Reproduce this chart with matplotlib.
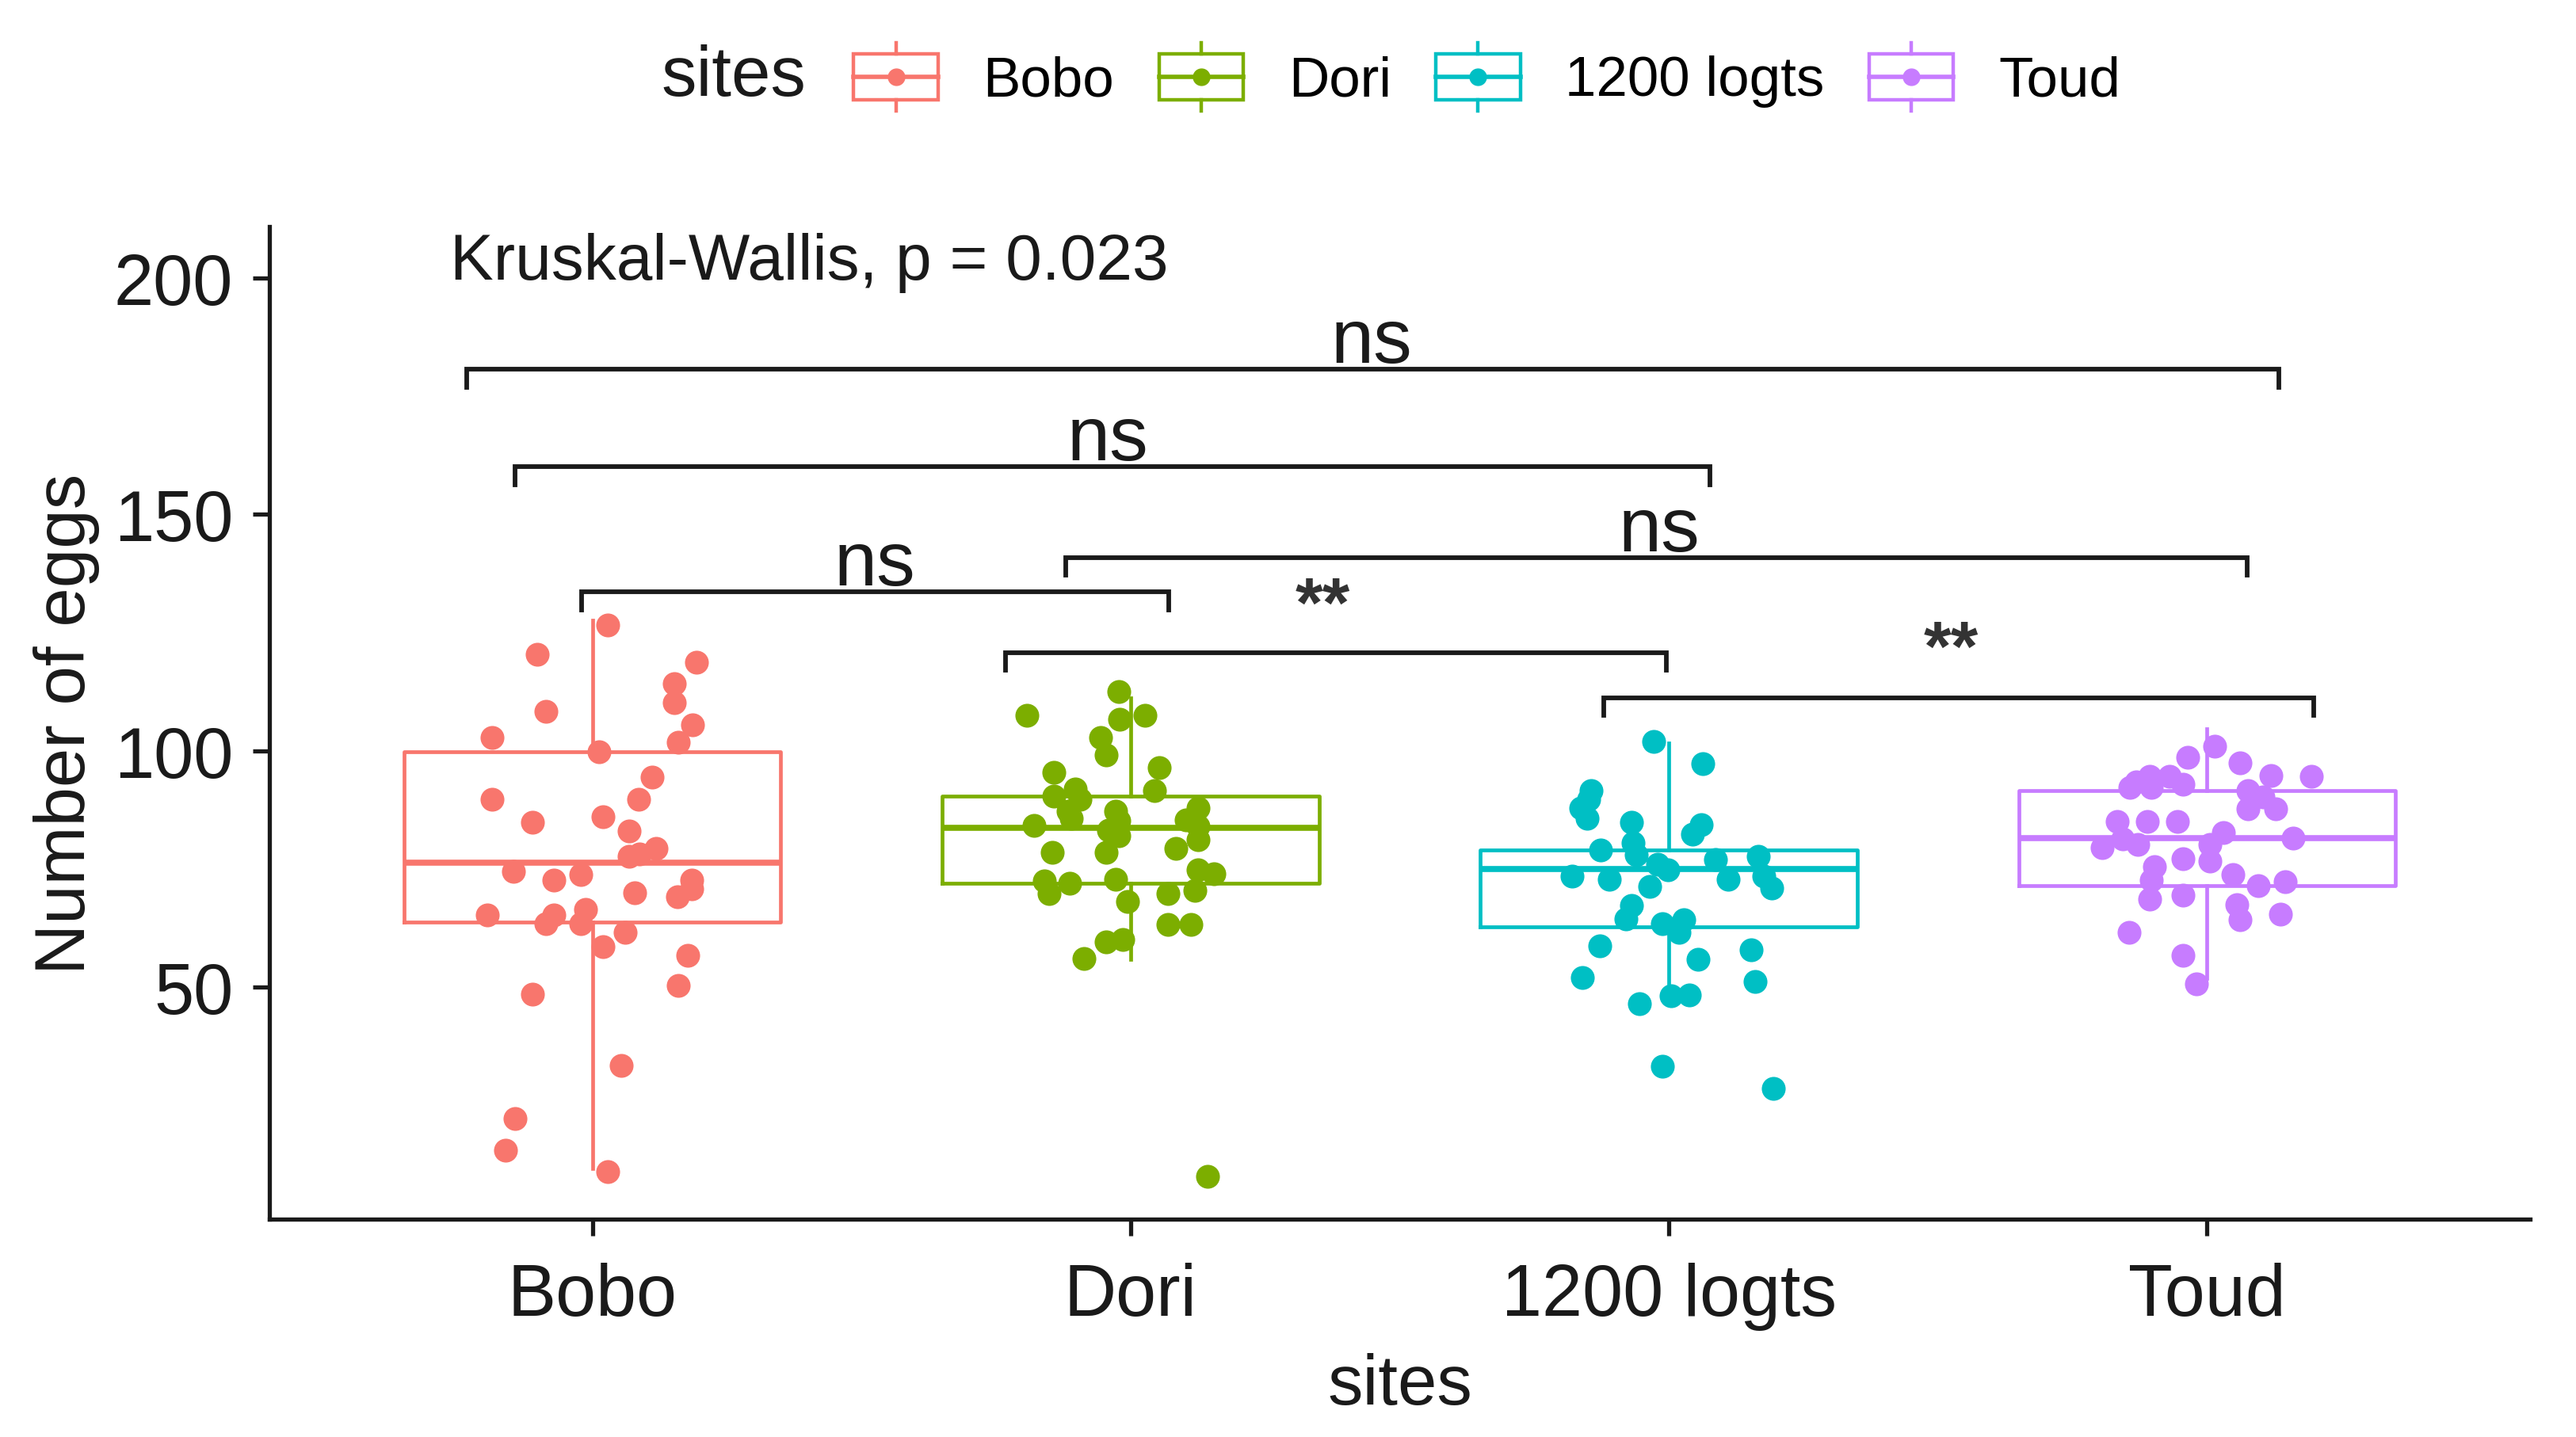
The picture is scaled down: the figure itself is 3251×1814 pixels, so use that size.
import numpy as np
import matplotlib.pyplot as plt
from matplotlib.legend_handler import HandlerBase
from matplotlib.lines import Line2D
from matplotlib.patches import Rectangle

plt.rcParams['font.family'] = ['Liberation Sans', 'DejaVu Sans']

sites = ["Bobo", "Dori", "1200 logts", "Toud"]
colors = ["#F8766D", "#7CAE00", "#00BFC4", "#C77CFF"]

# box statistics
q1 = [63.8, 72.1, 62.8, 71.5]
med = [76.4, 83.7, 75.1, 81.6]
q3 = [99.9, 90.5, 79.1, 91.7]
whislo = [11.7, 55.9, 49.0, 51.9]
whishi = [127.6, 111.3, 101.7, 104.7]

# jittered points: value and horizontal jitter
bobo_y = [120.5, 118.8, 114.3, 110.2, 108.4, 105.6, 102.9, 101.9, 99.9, 94.5,
          89.8, 89.8, 86.1, 85.0, 83.1, 79.4, 78.2, 77.7, 74.5, 73.8,
          72.7, 72.7, 70.9, 70.0, 69.1, 66.5, 65.4, 65.4, 63.5, 63.5,
          61.6, 58.6, 56.8, 50.5, 48.5, 33.5, 22.2, 15.5, 11.0, 126.7]
bobo_jit = [-0.102, 0.194, 0.152, 0.152, -0.086, 0.186, -0.186, 0.160, 0.012, 0.111,
            0.086, -0.186, 0.020, -0.111, 0.069, 0.119, 0.087, 0.068, -0.146, -0.022,
            -0.071, 0.185, 0.185, 0.078, 0.158, -0.012, -0.071, -0.195, -0.086, -0.022,
            0.061, 0.020, 0.177, 0.160, -0.111, 0.053, -0.143, -0.161, 0.029, 0.029]

dori_y = [112.5, 107.5, 106.7, 107.5, 102.9, 99.2, 96.5, 95.5, 91.7, 91.9,
          90.5, 89.7, 87.9, 87.3, 87.3, 85.5, 85.3, 85.7, 84.3, 83.3,
          84.1, 82.1, 81.3, 78.6, 79.4, 78.5, 74.9, 74.1, 72.9, 72.5,
          72.1, 70.6, 69.8, 69.8, 68.1, 63.3, 63.3, 59.7, 60.1, 56.1, 10.0]
dori_jit = [-0.022, -0.193, -0.020, 0.027, -0.056, -0.046, 0.054, -0.143, 0.044, -0.103,
            -0.143, -0.094, 0.126, -0.028, -0.116, 0.103, -0.022, -0.110, -0.179, -0.041,
            0.126, -0.022, 0.126, -0.145, 0.084, -0.046, 0.126, 0.155, -0.028, -0.160,
            -0.113, 0.119, -0.152, 0.069, -0.005, 0.069, 0.112, -0.046, -0.015, -0.087, 0.143]

logts_y = [102.0, 97.3, 91.6, 89.8, 88.0, 85.7, 85.0, 84.5, 82.4, 79.1,
           80.5, 78.0, 77.0, 77.7, 76.0, 74.9, 73.5, 72.8, 71.4, 72.8,
           73.5, 71.1, 67.4, 64.5, 63.5, 64.4, 61.7, 58.8, 56.0, 57.9,
           52.1, 51.2, 46.6, 48.2, 48.4, 33.4, 28.7]
logts_jit = [-0.028, 0.063, -0.145, -0.149, -0.163, -0.151, -0.069, 0.061, 0.044, -0.126,
             -0.067, -0.061, 0.087, 0.166, -0.021, -0.002, -0.179, -0.110, -0.036, 0.110,
             0.176, 0.192, -0.069, -0.080, -0.012, 0.028, 0.019, -0.128, 0.054, 0.153,
             -0.161, 0.161, -0.054, 0.004, 0.038, -0.012, 0.194]

toud_y = [101.0, 98.6, 97.5, 94.8, 94.6, 93.5, 94.6, 94.6, 92.9, 92.3,
          92.3, 91.7, 90.3, 87.7, 87.7, 85.1, 85.1, 85.1, 82.8, 81.6,
          81.4, 80.2, 79.6, 80.2, 77.3, 76.7, 75.6, 73.8, 72.4, 71.5,
          72.7, 69.5, 68.6, 67.5, 65.5, 64.3, 61.7, 56.8, 50.7]
toud_jit = [0.014, -0.036, 0.062, 0.119, 0.194, -0.132, -0.107, -0.069, -0.044, -0.104,
            -0.143, 0.076, 0.104, 0.076, 0.128, -0.167, -0.111, -0.055, 0.030, 0.160,
            -0.157, -0.128, -0.195, 0.005, -0.044, 0.005, -0.097, 0.048, 0.146, 0.095,
            -0.104, -0.045, -0.107, 0.055, 0.136, 0.062, -0.144, -0.045, -0.019]

values = [bobo_y, dori_y, logts_y, toud_y]
jitters = [bobo_jit, dori_jit, logts_jit, toud_jit]

# comparison brackets (hand placed in the original)
br_left = [0.766, 0.857, 1.880, 0.980, 1.768, 2.879]
br_right = [4.134, 3.076, 4.075, 2.071, 2.995, 4.198]
br_y = [180.7, 160.1, 140.9, 133.6, 120.8, 111.3]
br_label = ["ns", "ns", "ns", "ns", "**", "**"]
lab_x = [2.448, 1.957, 2.982, 1.524, 2.357, 3.524]
lab_y = [182.2, 161.6, 142.4, 135.1, 126.5, 117.3]


class BoxKey(HandlerBase):
    # small boxplot glyph for the legend, like ggplot's key
    def create_artists(self, legend, orig_handle, xdescent, ydescent,
                       width, height, fontsize, trans):
        c = orig_handle.get_color()
        x0, y0 = -xdescent, -ydescent
        xc = x0 + width / 2
        b0, b1 = y0 + 0.16 * height, y0 + 0.84 * height
        box = Rectangle((x0, b0), width, b1 - b0, fill=False, ec=c, lw=3.2, transform=trans)
        mline = Line2D([x0, x0 + width], [y0 + height / 2] * 2, color=c, lw=4, transform=trans)
        w1 = Line2D([xc, xc], [y0, b0], color=c, lw=3.2, transform=trans)
        w2 = Line2D([xc, xc], [b1, y0 + height], color=c, lw=3.2, transform=trans)
        dot = Line2D([xc], [y0 + height / 2], marker='o', ms=15, color=c, ls='', transform=trans)
        return [box, mline, w1, w2, dot]


fig = plt.figure(figsize=(32.51, 18.15), dpi=100)
ax = fig.add_axes([0.1046, 0.1515, 0.8775, 0.6901])

pos = np.arange(1, 5)
stats = [dict(med=med[i], q1=q1[i], q3=q3[i], whislo=whislo[i], whishi=whishi[i], fliers=[])
         for i in range(4)]
bp = ax.bxp(stats, positions=pos, widths=0.7, showfliers=False, showcaps=False,
            patch_artist=False)
for i, c in enumerate(colors):
    bp['boxes'][i].set(color=c, linewidth=3.4)
    bp['medians'][i].set(color=c, linewidth=5.5)
    bp['whiskers'][2 * i].set(color=c, linewidth=3.4)
    bp['whiskers'][2 * i + 1].set(color=c, linewidth=3.4)

for i in range(4):
    xs = pos[i] + np.array(jitters[i])
    ax.scatter(xs, values[i], s=470, color=colors[i], linewidths=0, zorder=3)

# significance brackets
tick = 3.8
for l, r, y, t, lx, ly in zip(br_left, br_right, br_y, br_label, lab_x, lab_y):
    ax.plot([l, l, r, r], [y - tick, y, y, y - tick], color='#1a1a1a', lw=4.2,
            solid_joinstyle='miter', zorder=4)
    if t == "ns":
        ax.text(lx, ly, t, ha='center', va='baseline', fontsize=70, color='#1a1a1a')
    else:
        ax.text(lx, ly, t, ha='center', va='baseline', fontsize=64, color='#333333',
                fontweight='bold')

ax.text(0.736, 199.8, "Kruskal-Wallis, p = 0.023", ha='left', va='baseline',
        fontsize=59, color='#1a1a1a')

ax.set_xlim(0.4, 4.6)
ax.set_ylim(1.0, 210.8)
ax.set_xticks(pos)
ax.set_xticklabels(sites)
ax.set_yticks([50, 100, 150, 200])
ax.tick_params(axis='y', labelsize=65, length=15, width=3.8, pad=18, colors='#1a1a1a')
ax.tick_params(axis='x', labelsize=66, length=15, width=3.8, pad=24, colors='#1a1a1a')
for s in ['top', 'right']:
    ax.spines[s].set_visible(False)
for s in ['left', 'bottom']:
    ax.spines[s].set_linewidth(3.8)
    ax.spines[s].set_color('#1a1a1a')

ax.set_ylabel("Number of eggs", fontsize=64, color='#1a1a1a')
ax.yaxis.set_label_coords(-0.0898, 0.5)
ax.yaxis.label.set_va('center')
ax.set_xlabel("sites", fontsize=64, color='#1a1a1a')
ax.xaxis.set_label_coords(0.5, -0.168)
ax.xaxis.label.set_va('center')

# legend on top, title at left
handles = [Line2D([], [], color=c) for c in colors]
fig.legend(handles, sites, loc='center left', bbox_to_anchor=(0.3314, 0.946), ncol=4,
           frameon=False, fontsize=51, handlelength=1.5, handleheight=1.5,
           handletextpad=0.8, columnspacing=0.8, borderpad=0, borderaxespad=0,
           handler_map={Line2D: BoxKey()})
fig.text(0.3128, 0.946, "sites", ha='right', va='center', fontsize=64, color='#1a1a1a')

fig.savefig("out.png", dpi=100, facecolor='white')
